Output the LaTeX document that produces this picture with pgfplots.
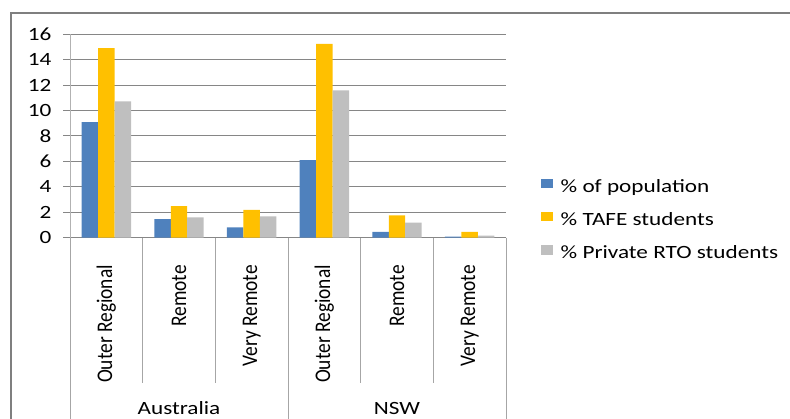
\documentclass[border=0pt]{standalone}
\usepackage{fontspec}
\setmainfont[FakeStretch=1.24]{Carlito}
\newfontfamily\rotfont{Carlito}
\usepackage{graphicx}
\usepackage{pgfplots}
\pgfplotsset{compat=1.18}
\definecolor{cpop}{HTML}{4F81BD}
\definecolor{ctafe}{HTML}{FFC000}
\definecolor{cpriv}{HTML}{BFBFBF}
\definecolor{cgrid}{HTML}{868686}
\definecolor{csep}{HTML}{A6A6A6}
\definecolor{cframe}{HTML}{7F7F7F}
\newcommand{\rl}[1]{\scalebox{1}[1.15]{\rotfont\fontsize{19.4}{22}\selectfont #1}}
\begin{document}
\begin{tikzpicture}[x=1pt,y=1pt]
\useasboundingbox (0,0) rectangle (790,419);
\draw[cframe, line width=1.5pt] (11,-2) -- (11,406) -- (792,406);
\begin{axis}[
  at={(70pt,181.3pt)}, anchor=south west, scale only axis,
  width=436pt, height=203.4pt,
  ybar=0pt, bar width=0.227,
  xmin=-0.5, xmax=5.5, ymin=0, ymax=16,
  ytick={0,2,...,16},
  xtick={0,1,2,3,4,5},
  xticklabels={\rl{Outer Regional},\rl{Remote},\rl{Very Remote},\rl{Outer Regional},\rl{Remote},\rl{Very Remote}},
  xticklabel style={rotate=90, anchor=east},
  xticklabel shift=17pt,
  x tick style={draw=none},
  axis lines*=left,
  ymajorgrids, grid style={cgrid, line width=1pt},
  y tick style={cgrid, line width=1pt}, tick align=outside, major tick length=7pt,
  x axis line style={cgrid, line width=1pt},
  y axis line style={black!30, line width=1pt},
  font=\fontsize{18.7}{22}\selectfont,
  /pgf/number format/assume math mode=true,
  yticklabel style={xshift=-8pt},
  legend style={at={(1.0803,0.0814)}, anchor=west, draw=none, fill=none, inner sep=0pt,
    row sep=15pt, font=\fontsize{18.7}{22}\selectfont,
    nodes={inner sep=0pt, text height=13pt, text depth=4.7pt}},
  legend cell align=left,
  legend image code/.code={\fill[#1] (0pt,0pt) rectangle (12pt,9.4pt);},
  /tikz/every odd column/.append style={column sep=7.5pt},
]
\addplot[fill=cpop, draw=none] coordinates {(0,9.1) (1,1.47) (2,0.81) (3,6.11) (4,0.45) (5,0.08)};
\addplot[fill=ctafe, draw=none] coordinates {(0,14.92) (1,2.49) (2,2.18) (3,15.24) (4,1.76) (5,0.45)};
\addplot[fill=cpriv, draw=none] coordinates {(0,10.73) (1,1.6) (2,1.68) (3,11.59) (4,1.18) (5,0.16)};
\legend{\% of population, \% TAFE students, \% Private RTO students}
\end{axis}
\foreach \k in {1,2,4,5} {\draw[csep, line width=1pt] ({70+\k*72.667},181.3) -- ({70+\k*72.667},36);}
\foreach \k in {0,3,6} {\draw[csep, line width=1pt] ({70+\k*72.667},181.3) -- ({70+\k*72.667},-2);}
\node[anchor=base, font=\fontsize{18.7}{22}\selectfont] at (179,4.7) {Australia};
\node[anchor=base, font=\fontsize{18.7}{22}\selectfont] at (397,4.7) {NSW};
\end{tikzpicture}
\end{document}
